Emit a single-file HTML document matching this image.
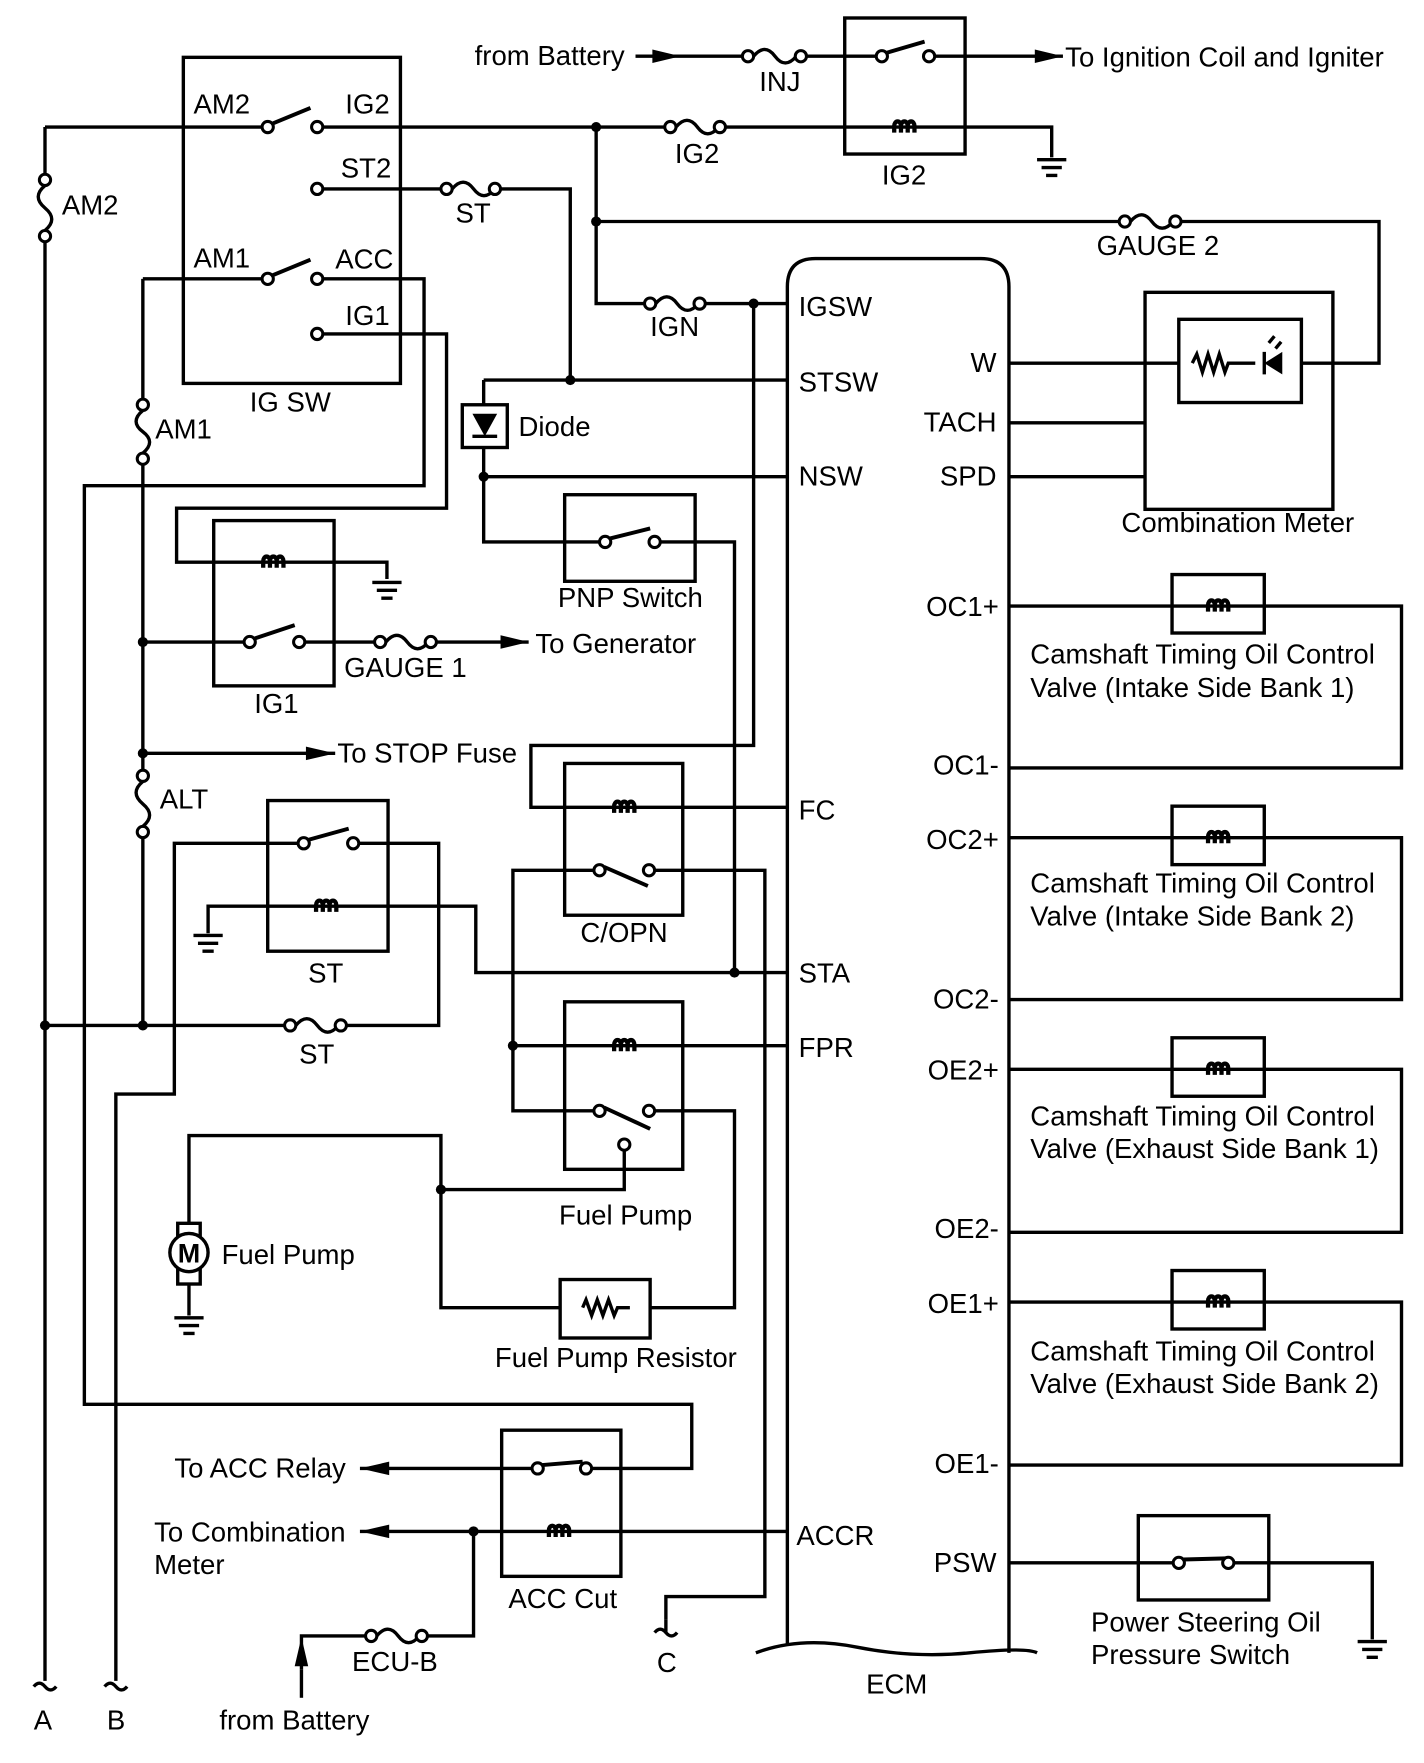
<!DOCTYPE html>
<html><head><meta charset="utf-8"><style>
html,body{margin:0;padding:0;background:#fff}
svg{display:block}
text{font-family:"Liberation Sans",sans-serif;font-size:24.5px;fill:#000}
</style></head><body>
<svg width="1424" height="1763" viewBox="0 0 1266 1568" preserveAspectRatio="none" xmlns="http://www.w3.org/2000/svg">
<defs>
<g id="coil"><path d="M-9,5 V-1 a3,4 0 0 1 6,0 V5 M-3,-1 a3,4 0 0 1 6,0 V5 M3,-1 a3,4 0 0 1 6,0 V5" fill="none" stroke="#000" stroke-width="3.8"/></g>
</defs>
<g fill="none" stroke="#000" stroke-width="3">
<rect x="163" y="51" width="193" height="290"/>
<rect x="751" y="16" width="107" height="121"/>
<rect x="190" y="463" width="107" height="147"/>
<rect x="238" y="712" width="107" height="134"/>
<rect x="502" y="440" width="116" height="77"/>
<rect x="502" y="679" width="105" height="135"/>
<rect x="502" y="891" width="105" height="149"/>
<rect x="498" y="1138" width="80" height="52"/>
<rect x="446" y="1272" width="106" height="130"/>
<rect x="411" y="360" width="40" height="38"/>
<rect x="1018" y="260" width="167" height="193"/>
<rect x="1048" y="284" width="109" height="74"/>
<rect x="1042" y="511" width="82" height="52"/>
<rect x="1042" y="717" width="82" height="52"/>
<rect x="1042" y="923" width="82" height="52"/>
<rect x="1042" y="1130" width="82" height="52"/>
<rect x="1012" y="1348" width="116" height="75"/>
<path d="M700,1462 V255 q0,-25 25,-25 H872 q25,0 25,25 V1470"/>
<path d="M672,1470 q40,-15 90,-5 t100,5 t60,0"/>
<path d="M565,50 H660 M717,50 H780 M831,50 H945"/>
<path d="M40,113 H233 M287,113 H591 M645,113 H935 V140"/>
<path d="M40,113 V155 M40,215 V912 M40,912 V1495"/>
<path d="M287,168 H392 M445,168 H507 V338"/>
<path d="M127,248 H233 M287,248 H377 V432 H75 V1249 H615 V1306 H526"/>
<path d="M287,297 H397 V452 H157 V500 H344 V515"/>
<path d="M127,248 V355 M127,413 V685 M127,745 V912"/>
<path d="M127,571 H217 M271,571 H333 M388,571 H470"/>
<path d="M127,670 H298"/>
<path d="M103,1495 V973 H155 V750 H265 M319,750 H390 V912 H308 M253,912 H40"/>
<path d="M185,830 V806 H423 V865 H700"/>
<path d="M430,338 H700 M430,338 V360 M430,398 V424 H700 M430,424 V482 H533 M587,482 H653 V865"/>
<path d="M530,113 V270 H573 M627,270 H700 M670,270 V663 H472 V718 H700"/>
<path d="M530,197 H995 M1050,197 H1226 V323 H1157"/>
<path d="M582,774 H680 V1420 H592 V1440"/>
<path d="M528,774 H456 V988 H528 M456,930 H700 M582,988 H653 V1163 H578 M498,1163 H392 V1010 H168 V1090"/>
<path d="M555,1023 V1058 H392"/>
<path d="M168,1140 V1170"/>
<path d="M473,1306 H320 M700,1362 H320 M421,1362 V1455 H380 M325,1455 H268 V1485"/>
<path d="M897,323 H1048 M897,376 H1018 M897,424 H1018"/>
<path d="M897,539 H1246 V683 H897 M897,745 H1246 V889 H897 M897,951 H1246 V1096 H897 M897,1158 H1246 V1303 H897"/>
<path d="M897,1390 H1043 M1097,1390 H1220 V1458"/>
<path d="M242,110 L276,96 M242,245 L276,231 M788,47 L822,37 M226,568 L262,556 M274,747 L310,737 M542,479 L578,470 M537,771 L576,788 M537,985 L578,1004 M482,1303 L518,1300 M1052,1387 L1090,1386" stroke-width="3.5"/>
<path d="M1060,323 l4,-8 l5,16 l5,-16 l5,16 l5,-16 l5,16 l3,-8 H1116"/>
<path d="M518,1163 l3,-7 l5,14 l5,-14 l5,14 l5,-14 l5,14 l3,-7 H560"/>
<path d="M670,50 q10,-12 19,0 t19,0 M601,113 q10,-12 19,0 t19,0 M402,168 q10,-12 19,0 t19,0 M583,270 q10,-12 19,0 t19,0 M1005,197 q10,-12 19,0 t19,0 M343,571 q10,-12 19,0 t19,0 M263,912 q10,-12 19,0 t19,0 M335,1455 q10,-12 19,0 t19,0"/>
<path d="M40,165 q-12,10 0,20 t0,20 M127,365 q-12,10 0,19 t0,19 M127,695 q-12,10 0,20 t0,20"/>
<path d="M922,142 H948 M926,149 H944 M930,156 H940 M331,518 H357 M335,525 H353 M339,532 H349 M172,832 H198 M176,839 H194 M180,846 H190 M155,1172 H181 M159,1179 H177 M163,1186 H173 M1207,1460 H1233 M1211,1467 H1229 M1215,1474 H1225"/>
<path d="M30,1500 q5,-6 10,0 t10,0 M93,1500 q5,-6 10,0 t10,0 M582,1452 q5,-6 10,0 t10,0 M592,1440 V1452"/>
<path d="M268,1485 V1510"/>
</g>
<g fill="#000">
<path d="M580,44 L605,50 L580,56z"/>
<path d="M920,44 L945,50 L920,56z"/>
<path d="M445,565 L470,571 L445,577z"/>
<path d="M272,664 L298,670 L272,676z"/>
<path d="M346,1300 L320,1306 L346,1312z"/>
<path d="M346,1356 L320,1362 L346,1368z"/>
<path d="M262,1482 L268,1456 L274,1482z"/>
<path d="M420,368 H442 L431,388z"/>
<path d="M1140,313 V333 L1124,323z"/>
</g>
<g stroke="#000" stroke-width="3">
<path d="M420,388 H442 M1124,313 V333 M1128,305 l5,-6 M1134,310 l5,-6"/>
</g>
<use href="#coil" x="804" y="113"/><use href="#coil" x="243" y="500"/><use href="#coil" x="290" y="806"/>
<use href="#coil" x="555" y="718"/><use href="#coil" x="555" y="930"/><use href="#coil" x="497" y="1362"/>
<use href="#coil" x="1083" y="539"/><use href="#coil" x="1083" y="745"/><use href="#coil" x="1083" y="951"/><use href="#coil" x="1083" y="1158"/>
<g fill="#fff" stroke="#000" stroke-width="2.7">
<circle cx="665" cy="50" r="5"/><circle cx="712" cy="50" r="5"/><circle cx="784" cy="50" r="5"/><circle cx="826" cy="50" r="5"/>
<circle cx="238" cy="113" r="5"/><circle cx="282" cy="113" r="5"/><circle cx="596" cy="113" r="5"/><circle cx="640" cy="113" r="5"/>
<circle cx="282" cy="168" r="5"/><circle cx="397" cy="168" r="5"/><circle cx="440" cy="168" r="5"/>
<circle cx="238" cy="248" r="5"/><circle cx="282" cy="248" r="5"/><circle cx="282" cy="297" r="5"/>
<circle cx="578" cy="270" r="5"/><circle cx="622" cy="270" r="5"/><circle cx="1000" cy="197" r="5"/><circle cx="1045" cy="197" r="5"/>
<circle cx="40" cy="160" r="5"/><circle cx="40" cy="210" r="5"/><circle cx="127" cy="360" r="5"/><circle cx="127" cy="408" r="5"/>
<circle cx="127" cy="690" r="5"/><circle cx="127" cy="740" r="5"/>
<circle cx="222" cy="571" r="5"/><circle cx="266" cy="571" r="5"/><circle cx="338" cy="571" r="5"/><circle cx="383" cy="571" r="5"/>
<circle cx="270" cy="750" r="5"/><circle cx="314" cy="750" r="5"/><circle cx="258" cy="912" r="5"/><circle cx="303" cy="912" r="5"/>
<circle cx="538" cy="482" r="5"/><circle cx="582" cy="482" r="5"/>
<circle cx="533" cy="774" r="5"/><circle cx="577" cy="774" r="5"/><circle cx="533" cy="988" r="5"/><circle cx="577" cy="988" r="5"/><circle cx="555" cy="1018" r="5"/>
<circle cx="478" cy="1306" r="5"/><circle cx="521" cy="1306" r="5"/><circle cx="330" cy="1455" r="5"/><circle cx="375" cy="1455" r="5"/>
<circle cx="1048" cy="1390" r="5"/><circle cx="1092" cy="1390" r="5"/>
</g>
<g fill="#000">
<circle cx="530" cy="113" r="4.5"/><circle cx="530" cy="197" r="4.5"/><circle cx="507" cy="338" r="4.5"/><circle cx="670" cy="270" r="4.5"/>
<circle cx="430" cy="424" r="4.5"/><circle cx="127" cy="571" r="4.5"/><circle cx="127" cy="670" r="4.5"/><circle cx="127" cy="912" r="4.5"/>
<circle cx="40" cy="912" r="4.5"/><circle cx="653" cy="865" r="4.5"/><circle cx="456" cy="930" r="4.5"/><circle cx="392" cy="1058" r="4.5"/><circle cx="421" cy="1362" r="4.5"/>
</g>
<rect x="158" y="1088" width="20" height="54" fill="#fff" stroke="#000" stroke-width="3"/>
<circle cx="168" cy="1114" r="17" fill="#fff" stroke="#000" stroke-width="3"/>
<text x="168" y="1123" text-anchor="middle" font-weight="bold" style="font-size:24px">M</text>
<text x="422" y="58">from Battery</text>
<text x="675" y="81">INJ</text>
<text x="947" y="59">To Ignition Coil and Igniter</text>
<text x="600" y="145">IG2</text><text x="784" y="164">IG2</text>
<text x="172" y="101">AM2</text><text x="307" y="101">IG2</text><text x="303" y="158">ST2</text>
<text x="172" y="238">AM1</text><text x="298" y="239">ACC</text><text x="307" y="289">IG1</text>
<text x="222" y="366">IG SW</text><text x="405" y="198">ST</text>
<text x="55" y="191">AM2</text><text x="138" y="390">AM1</text><text x="142" y="719">ALT</text>
<text x="975" y="227">GAUGE 2</text><text x="578" y="299">IGN</text>
<text x="461" y="388">Diode</text><text x="496" y="540">PNP Switch</text>
<text x="306" y="602">GAUGE 1</text><text x="226" y="634">IG1</text><text x="476" y="581">To Generator</text>
<text x="300" y="678">To STOP Fuse</text>
<text x="274" y="874">ST</text><text x="266" y="946">ST</text>
<text x="516" y="838">C/OPN</text><text x="497" y="1089">Fuel Pump</text>
<text x="197" y="1124">Fuel Pump</text><text x="440" y="1216">Fuel Pump Resistor</text>
<text x="155" y="1314">To ACC Relay</text><text x="137" y="1371">To Combination</text><text x="137" y="1400">Meter</text>
<text x="452" y="1430">ACC Cut</text><text x="313" y="1486">ECU-B</text><text x="195" y="1538">from Battery</text>
<text x="30" y="1538">A</text><text x="95" y="1538">B</text><text x="584" y="1487">C</text><text x="770" y="1506">ECM</text>
<text x="710" y="281">IGSW</text><text x="710" y="348">STSW</text><text x="710" y="432">NSW</text>
<text x="710" y="729">FC</text><text x="710" y="874">STA</text><text x="710" y="940">FPR</text><text x="708" y="1374">ACCR</text>
<g text-anchor="end">
<text x="886" y="331">W</text><text x="886" y="384">TACH</text><text x="886" y="432">SPD</text>
<text x="888" y="548">OC1+</text><text x="888" y="689">OC1-</text><text x="888" y="755">OC2+</text><text x="888" y="897">OC2-</text>
<text x="888" y="960">OE2+</text><text x="888" y="1101">OE2-</text><text x="888" y="1168">OE1+</text><text x="888" y="1310">OE1-</text>
<text x="886" y="1398">PSW</text>
</g>
<text x="997" y="473">Combination Meter</text>
<text x="916" y="590">Camshaft Timing Oil Control</text><text x="916" y="620">Valve (Intake Side Bank 1)</text>
<text x="916" y="794">Camshaft Timing Oil Control</text><text x="916" y="823">Valve (Intake Side Bank 2)</text>
<text x="916" y="1001">Camshaft Timing Oil Control</text><text x="916" y="1030">Valve (Exhaust Side Bank 1)</text>
<text x="916" y="1210">Camshaft Timing Oil Control</text><text x="916" y="1239">Valve (Exhaust Side Bank 2)</text>
<text x="970" y="1451">Power Steering Oil</text><text x="970" y="1480">Pressure Switch</text>
</svg>
</body></html>
